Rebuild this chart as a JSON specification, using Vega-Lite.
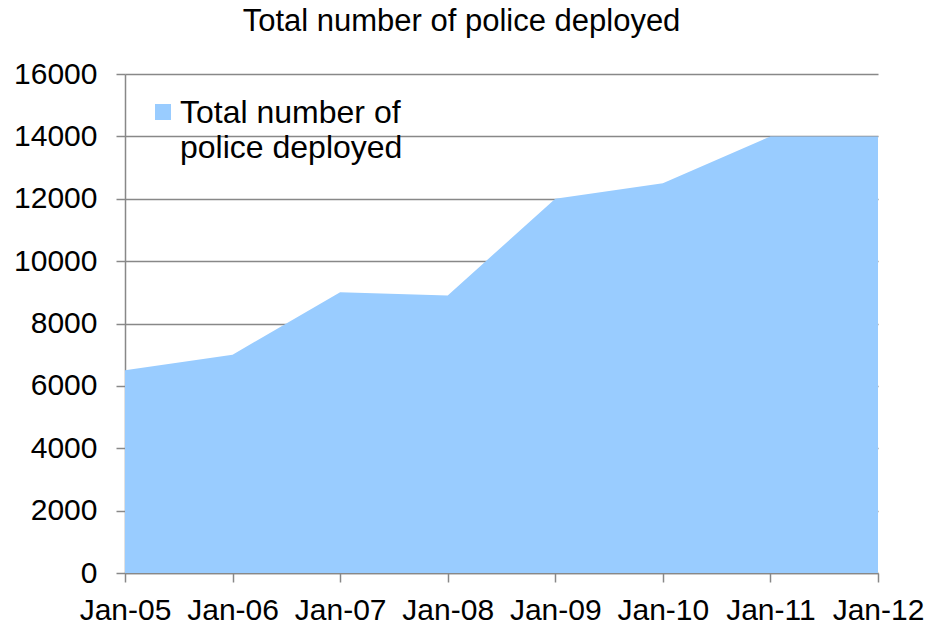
{
  "$schema": "https://vega.github.io/schema/vega-lite/v6.json",
  "width": 753,
  "height": 499,
  "autosize": {"type": "none"},
  "padding": {"left": 125, "top": 74, "right": 52, "bottom": 55},
  "background": "white",
  "config": {
    "font": "Liberation Sans",
    "view": {"stroke": null}
  },
  "title": {
    "text": "Total number of police deployed",
    "fontSize": 31,
    "fontWeight": "normal",
    "font": "Liberation Sans",
    "color": "black",
    "anchor": "middle",
    "frame": "group",
    "dx": -40,
    "offset": 21
  },
  "data": {
    "values": [
      {"month": "Jan-05", "police": 6500, "series": "Total number of police deployed"},
      {"month": "Jan-06", "police": 7000, "series": "Total number of police deployed"},
      {"month": "Jan-07", "police": 9000, "series": "Total number of police deployed"},
      {"month": "Jan-08", "police": 8900, "series": "Total number of police deployed"},
      {"month": "Jan-09", "police": 12000, "series": "Total number of police deployed"},
      {"month": "Jan-10", "police": 12500, "series": "Total number of police deployed"},
      {"month": "Jan-11", "police": 14000, "series": "Total number of police deployed"},
      {"month": "Jan-12", "police": 14000, "series": "Total number of police deployed"}
    ]
  },
  "mark": {"type": "area", "opacity": 1},
  "encoding": {
    "x": {
      "field": "month",
      "type": "ordinal",
      "scale": {"type": "point", "padding": 0},
      "axis": {
        "title": null,
        "labelAngle": 0,
        "labelFontSize": 30,
        "labelColor": "black",
        "labelPadding": 13,
        "labelOverlap": false,
        "tickSize": 9,
        "tickColor": "#888888",
        "tickWidth": 1.5,
        "domainColor": "#888888",
        "domainWidth": 1.5,
        "grid": false
      }
    },
    "y": {
      "field": "police",
      "type": "quantitative",
      "scale": {"domain": [0, 16000], "nice": false},
      "axis": {
        "title": null,
        "values": [0, 2000, 4000, 6000, 8000, 10000, 12000, 14000, 16000],
        "format": "d",
        "labelFontSize": 30,
        "labelColor": "black",
        "labelPadding": 19,
        "labelOverlap": false,
        "tickSize": 9,
        "tickColor": "#888888",
        "tickWidth": 1.5,
        "domainColor": "#888888",
        "domainWidth": 1.5,
        "grid": true,
        "gridColor": "#888888",
        "gridWidth": 1.5
      }
    },
    "color": {
      "field": "series",
      "type": "nominal",
      "scale": {"range": ["#99CCFF"]},
      "legend": {
        "title": null,
        "orient": "none",
        "legendX": 22,
        "legendY": 22,
        "symbolType": "square",
        "symbolSize": 256,
        "labelFontSize": 32,
        "labelColor": "black",
        "labelLimit": 500,
        "labelExpr": "['Total number of', 'police deployed']",
        "labelBaseline": "top",
        "labelOffset": 1,
        "symbolOpacity": 1,
        "symbolStrokeWidth": 0,
        "encode": {
          "labels": {"update": {"lineHeight": {"value": 35}, "dy": {"value": -14}}}
        }
      }
    }
  }
}
